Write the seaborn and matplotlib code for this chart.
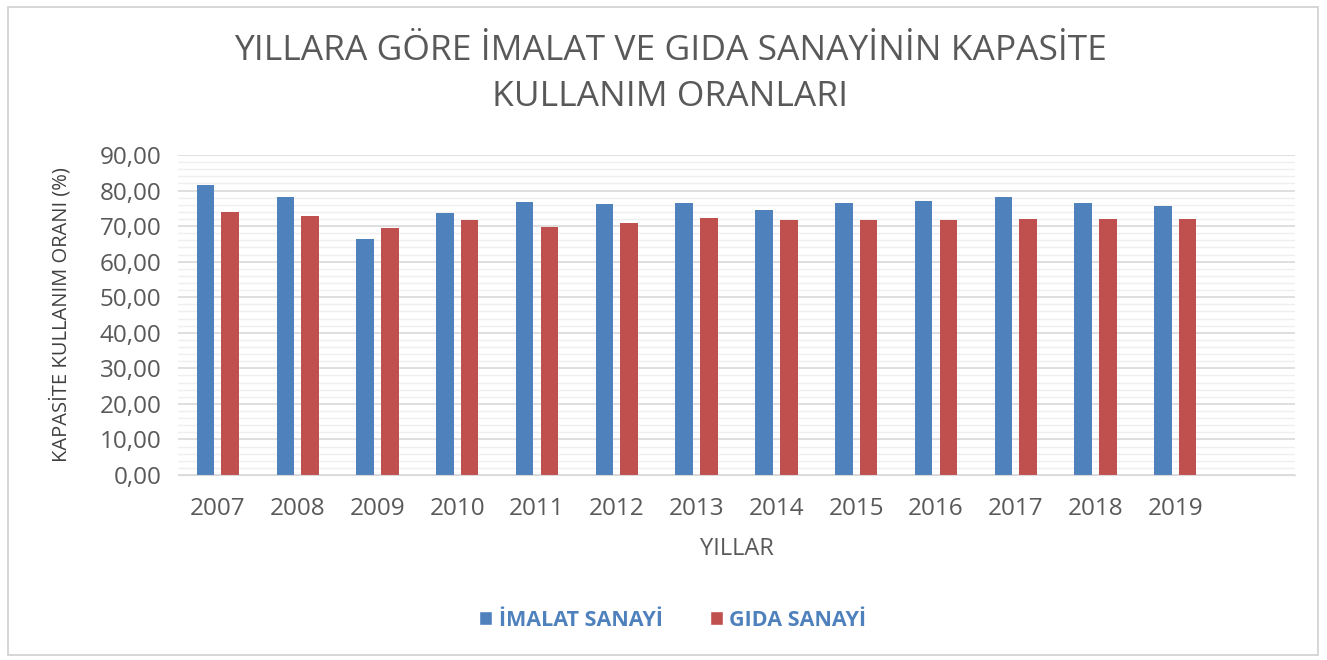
import numpy as np
import pandas as pd
import seaborn as sns
import matplotlib.pyplot as plt
from matplotlib.patches import Rectangle, Patch
from matplotlib.ticker import FuncFormatter, MultipleLocator

years = ["2007", "2008", "2009", "2010", "2011", "2012", "2013",
         "2014", "2015", "2016", "2017", "2018", "2019"]
imalat = [81.6, 78.3, 66.4, 73.6, 76.8, 76.1, 76.4, 74.5, 76.4, 77.1, 78.3, 76.4, 75.7]
gida = [73.9, 72.8, 69.4, 71.7, 69.8, 71.0, 72.3, 71.7, 71.7, 71.7, 72.1, 72.1, 72.1]
series = ["İMALAT SANAYİ", "GIDA SANAYİ"]
colors = ["#4F81BD", "#C0504D"]

df = pd.DataFrame({"yil": years * 2,
                   "oran": imalat + gida,
                   "seri": [series[0]] * len(years) + [series[1]] * len(years)})

sns.set_style("white")
plt.rcParams["font.family"] = ["Open Sans", "DejaVu Sans"]

fig = plt.figure(figsize=(13.27, 6.6), dpi=100)
ax = fig.add_axes([178 / 1327, 1 - 475 / 660, (1295 - 178) / 1327, (475 - 155) / 660])

sns.barplot(data=df, x="yil", y="oran", hue="seri", palette=colors, saturation=1,
            width=0.62, gap=0.29, ax=ax, legend=False, edgecolor="none")

ax.set_xlim(-0.5, 13.5)
ax.set_ylim(0, 90)
ax.yaxis.set_major_locator(MultipleLocator(10))
ax.yaxis.set_minor_locator(MultipleLocator(2))
ax.yaxis.set_major_formatter(FuncFormatter(lambda v, p: f"{v:.2f}".replace(".", ",")))
ax.grid(axis="y", which="major", color="#D9D9D9", linewidth=1.2)
ax.grid(axis="y", which="minor", color="#EFEFEF", linewidth=1)
ax.set_axisbelow(True)
for s in ["left", "right", "top"]:
    ax.spines[s].set_visible(False)
ax.spines["bottom"].set_color("#D9D9D9")
ax.tick_params(axis="both", which="both", length=0, labelsize=17.5, labelcolor="#595959")
ax.tick_params(axis="y", pad=12)
ax.tick_params(axis="x", pad=16)

ax.set_xlabel("YILLAR", fontsize=17, color="#595959")
ax.xaxis.set_label_coords(0.5, -(537 - 475) / 320, transform=ax.transAxes)
ax.set_ylabel("KAPASİTE KULLANIM ORANI (%)", fontsize=14.5, color="#404040")
ax.yaxis.set_label_coords(-(178 - 72) / 1117, 0.5, transform=ax.transAxes)

fig.text(0.505, 1 - 74 / 660, "YILLARA GÖRE İMALAT VE GIDA SANAYİNİN KAPASİTE\nKULLANIM ORANLARI",
         ha="center", va="center", fontsize=25.5, color="#595959", linespacing=1.43)

handles = [Patch(facecolor=c, label=l) for c, l in zip(colors, series)]
leg = fig.legend(handles=handles, loc="center", bbox_to_anchor=(0.507, 1 - 620 / 660), ncol=2,
                 frameon=False, handlelength=0.6, handleheight=0.6, handletextpad=0.3,
                 columnspacing=2.2, prop={"size": 15.5, "weight": "bold"})
for t in leg.get_texts():
    t.set_color("#4F81BD")

fig.patches.append(Rectangle((8 / 1327, 5 / 660), 1310 / 1327, 648 / 660, transform=fig.transFigure,
                             fill=False, edgecolor="#D0D0D0", linewidth=1.2))

fig.savefig("out.png", dpi=100)
